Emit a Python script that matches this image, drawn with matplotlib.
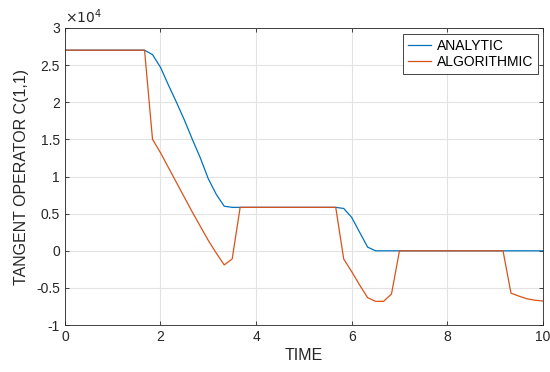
import numpy as np
import matplotlib.pyplot as plt
from matplotlib.ticker import FuncFormatter

plt.rcParams['font.family'] = ['Liberation Sans', 'DejaVu Sans']

# time grid, step 1/6
time = np.linspace(0, 10, 61)

analytic = [2.7, 2.7, 2.7, 2.7, 2.7, 2.7, 2.7, 2.7, 2.7, 2.7,
            2.7, 2.64, 2.47, 2.23, 2.00, 1.76, 1.50, 1.25, 0.97, 0.76,
            0.60, 0.585, 0.585, 0.585, 0.585, 0.585, 0.585, 0.585, 0.585, 0.585,
            0.585, 0.585, 0.585, 0.585, 0.585, 0.57, 0.45, 0.25, 0.05, 0.0,
            0.0, 0.0, 0.0, 0.0, 0.0, 0.0, 0.0, 0.0, 0.0, 0.0,
            0.0, 0.0, 0.0, 0.0, 0.0, 0.0, 0.0, 0.0, 0.0, 0.0,
            0.0]
algorithmic = [2.7, 2.7, 2.7, 2.7, 2.7, 2.7, 2.7, 2.7, 2.7, 2.7,
               2.7, 1.50, 1.32, 1.12, 0.92, 0.72, 0.52, 0.33, 0.14, -0.03,
               -0.19, -0.11, 0.585, 0.585, 0.585, 0.585, 0.585, 0.585, 0.585, 0.585,
               0.585, 0.585, 0.585, 0.585, 0.585, -0.11, -0.28, -0.46, -0.63, -0.68,
               -0.68, -0.58, 0.0, 0.0, 0.0, 0.0, 0.0, 0.0, 0.0, 0.0,
               0.0, 0.0, 0.0, 0.0, 0.0, 0.0, -0.57, -0.61, -0.645, -0.665,
               -0.675]
analytic = np.array(analytic) * 1e4
algorithmic = np.array(algorithmic) * 1e4

fig = plt.figure(figsize=(5.5, 3.72), dpi=100)
ax = fig.add_axes([0.118, 0.126, 0.869, 0.799])

ax.plot(time, analytic, color='#0072BD', linewidth=0.9, label='ANALYTIC')
ax.plot(time, algorithmic, color='#D95319', linewidth=0.9, label='ALGORITHMIC')

ax.set_xlim(0, 10)
ax.set_ylim(-1e4, 3e4)
ax.set_xticks(np.arange(0, 11, 2))
ax.set_yticks(np.arange(-1e4, 3.01e4, 0.5e4))
ax.yaxis.set_major_formatter(FuncFormatter(lambda v, p: f'{v / 1e4:g}'))
ax.text(0.0, 1.005, r'$\times10^4$', transform=ax.transAxes, fontsize=10,
        color='#262626', ha='left', va='bottom')

ax.grid(True, color='#e3e3e3', linewidth=0.8)
ax.set_axisbelow(True)
ax.tick_params(direction='in', top=True, right=True, length=3,
               labelsize=10, colors='#262626', width=0.6)
for s in ax.spines.values():
    s.set_color('#262626')
    s.set_linewidth(0.6)

ax.set_xlabel('TIME', fontsize=11.5, color='#262626', labelpad=3)
ax.set_ylabel('TANGENT OPERATOR C(1,1)', fontsize=11.5, color='#262626', labelpad=5)

leg = ax.legend(loc='upper right', bbox_to_anchor=(0.99, 0.98), fontsize=10,
                fancybox=False, framealpha=1, edgecolor='#262626',
                handlelength=1.7, handletextpad=0.4, borderpad=0.35,
                labelspacing=0.15, borderaxespad=0)
leg.get_frame().set_linewidth(0.6)

fig.savefig('out.png', dpi=100)
